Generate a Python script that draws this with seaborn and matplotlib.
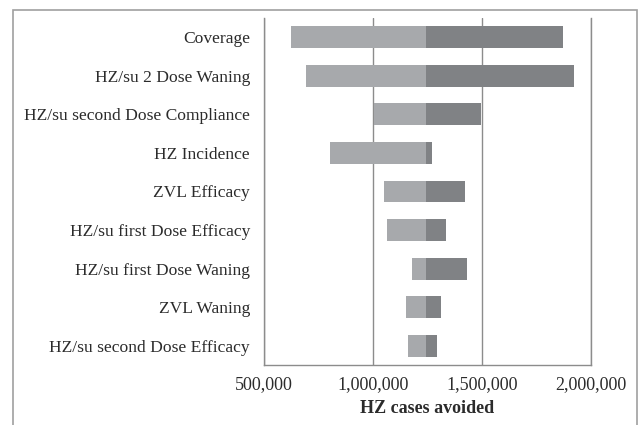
import numpy as np
import pandas as pd
import matplotlib
matplotlib.use("Agg")
import matplotlib.pyplot as plt
import seaborn as sns
from matplotlib.patches import Rectangle
from matplotlib.ticker import FuncFormatter

categories = [
    "Coverage",
    "HZ/su 2 Dose Waning",
    "HZ/su second Dose Compliance",
    "HZ Incidence",
    "ZVL Efficacy",
    "HZ/su first Dose Efficacy",
    "HZ/su first Dose Waning",
    "ZVL Waning",
    "HZ/su second Dose Efficacy",
]
base_value = 1245000
low_values = [624000, 694000, 1003000, 801000, 1052000, 1064000, 1180000, 1153000, 1161000]
high_values = [1873000, 1922000, 1494000, 1272000, 1422000, 1335000, 1430000, 1312000, 1292000]
x_ticks = [500000, 1000000, 1500000, 2000000]

df = pd.DataFrame({"category": categories, "low": low_values, "high": high_values})
df["light_w"] = base_value - df["low"]
df["dark_w"] = df["high"] - base_value

sns.set_style("white")
plt.rcParams["font.family"] = ["Liberation Serif", "DejaVu Serif"]

fig = plt.figure(figsize=(6.41, 4.25), dpi=100)
ax = fig.add_axes([264 / 641, 1 - 365 / 425, (591 - 264) / 641, (365 - 18) / 425])

light = "#a7a9ac"
dark = "#808285"
sns.barplot(data=df, x="light_w", y="category", order=categories, left=df["low"].values,
            color=light, width=0.57, ax=ax, saturation=1, zorder=2, linewidth=0)
sns.barplot(data=df, x="dark_w", y="category", order=categories, left=base_value,
            color=dark, width=0.57, ax=ax, saturation=1, zorder=2, linewidth=0)

ax.set_xlim(x_ticks[0], x_ticks[-1])
ax.set_ylim(len(categories) - 0.5, -0.5)
ax.set_xticks(x_ticks)
ax.xaxis.set_major_formatter(FuncFormatter(lambda v, p: f"{int(v):,}"))
ax.grid(axis="x", color="#8c8c8c", linewidth=1.0, zorder=0)
ax.set_axisbelow(True)
ax.spines["top"].set_visible(False)
for s in ["left", "bottom", "right"]:
    ax.spines[s].set_color("#8c8c8c")
    ax.spines[s].set_linewidth(1.0)
ax.tick_params(axis="x", length=0, labelsize=13, colors="#2b2b2b", pad=8)
ax.tick_params(axis="y", length=0, labelsize=12.6, colors="#2b2b2b", pad=10)
ax.set_ylabel("")
ax.set_xlabel("HZ cases avoided", fontsize=13, fontweight="bold", color="#2b2b2b", labelpad=5)
ax.set_facecolor("white")

fig.patches.append(Rectangle((13 / 641, -0.1), 624 / 641, 1.1 - 10 / 425,
                             transform=fig.transFigure, fill=False,
                             edgecolor="#a0a0a0", linewidth=1.2))

fig.savefig("out.png", dpi=100, facecolor="white")
